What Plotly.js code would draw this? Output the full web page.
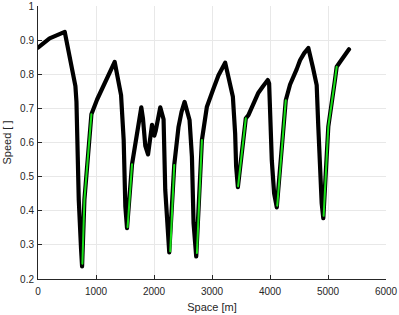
<!DOCTYPE html>
<html><head><meta charset="utf-8">
<script src="https://cdn.plot.ly/plotly-3.0.1.min.js"></script>
<style>html,body{margin:0;padding:0;background:#fff;}#chart{width:399px;height:315px;}</style>
</head><body><div id="chart"></div>
<script>
// Full speed profile (black)
const spaceAll = [0, 200, 461, 560, 645, 663, 703, 743, 760, 800, 921, 1019, 1133, 1248, 1322, 1432, 1477, 1506, 1535, 1621, 1690, 1740, 1781, 1810, 1850, 1897, 1966, 2005, 2030, 2108, 2165, 2194, 2234, 2263, 2349, 2423, 2475, 2527, 2613, 2654, 2682, 2728, 2826, 2912, 3026, 3112, 3227, 3300, 3360, 3399, 3416, 3446, 3583, 3628, 3744, 3800, 3880, 3962, 3985, 4031, 4071, 4117, 4272, 4346, 4461, 4518, 4590, 4661, 4740, 4805, 4833, 4862, 4891, 4919, 5005, 5120, 5150, 5207, 5280, 5362];
const speedAll = [0.878, 0.905, 0.924, 0.84, 0.765, 0.72, 0.432, 0.286, 0.237, 0.432, 0.683, 0.726, 0.768, 0.815, 0.836, 0.739, 0.608, 0.412, 0.349, 0.536, 0.615, 0.667, 0.703, 0.67, 0.59, 0.565, 0.652, 0.62, 0.635, 0.703, 0.668, 0.461, 0.334, 0.278, 0.534, 0.646, 0.69, 0.719, 0.666, 0.558, 0.364, 0.266, 0.607, 0.705, 0.758, 0.797, 0.834, 0.785, 0.734, 0.627, 0.53, 0.469, 0.671, 0.68, 0.729, 0.746, 0.765, 0.783, 0.773, 0.548, 0.451, 0.41, 0.724, 0.77, 0.815, 0.841, 0.862, 0.877, 0.82, 0.768, 0.646, 0.5, 0.422, 0.378, 0.646, 0.783, 0.822, 0.836, 0.856, 0.873];
// Highlighted segments (green), null separates segments
const spaceGreen = [765, 800, 921, null, 1545, 1621, null, 2280, 2349, null, 2740, 2826, null, 3450, 3583, null, 4125, 4272, null, 4925, 5005, 5120, 5150];
const speedGreen = [0.245, 0.432, 0.683, null, 0.352, 0.536, null, 0.281, 0.534, null, 0.276, 0.607, null, 0.472, 0.671, null, 0.415, 0.724, null, 0.385, 0.646, 0.783, 0.822];
const xTicks = [0, 1000, 2000, 3000, 4000, 5000, 6000];
const yTicks = [0.2, 0.3, 0.4, 0.5, 0.6, 0.7, 0.8, 0.9, 1];
const yTickText = ['0.2', '0.3', '0.4', '0.5', '0.6', '0.7', '0.8', '0.9', '1'];

const traces = [
  {x: spaceAll, y: speedAll, mode: 'lines', line: {color: '#000', width: 4.2}, hoverinfo: 'skip'},
  {x: spaceGreen, y: speedGreen, mode: 'lines', line: {color: '#19e019', width: 2}, connectgaps: false, hoverinfo: 'skip'}
];
const fontFam = 'Liberation Sans, Arial, sans-serif';
const axisCommon = {
  showline: true, linecolor: '#262626', linewidth: 1, mirror: false,
  ticks: 'inside', ticklen: 4, tickcolor: '#262626', tickwidth: 1,
  showgrid: true, gridcolor: '#e8e8e8', gridwidth: 1, zeroline: false,
  tickfont: {family: fontFam, size: 10, color: '#262626'}
};
const layout = {
  width: 399, height: 315,
  margin: {l: 37.5, r: 13, t: 6, b: 36},
  paper_bgcolor: '#fff', plot_bgcolor: '#fff',
  showlegend: false,
  xaxis: Object.assign({}, axisCommon, {
    range: [0, 6000], tickmode: 'array', tickvals: xTicks, ticklabelstandoff: 3,
    title: {text: 'Space [m]', font: {family: fontFam, size: 11, color: '#262626'}, standoff: 7}
  }),
  yaxis: Object.assign({}, axisCommon, {
    range: [0.2, 1], tickmode: 'array', tickvals: yTicks, ticktext: yTickText, ticklabelstandoff: 1,
    title: {text: 'Speed [ ]', font: {family: fontFam, size: 11, color: '#262626'}, standoff: 6}
  })
};
Plotly.newPlot('chart', traces, layout, {staticPlot: true, displayModeBar: false}).then(function () {
  document.querySelectorAll('.scatterlayer .js-line').forEach(function (p) {
    p.style.strokeLinejoin = 'round';
    p.style.strokeLinecap = 'round';
  });
});
</script></body></html>
